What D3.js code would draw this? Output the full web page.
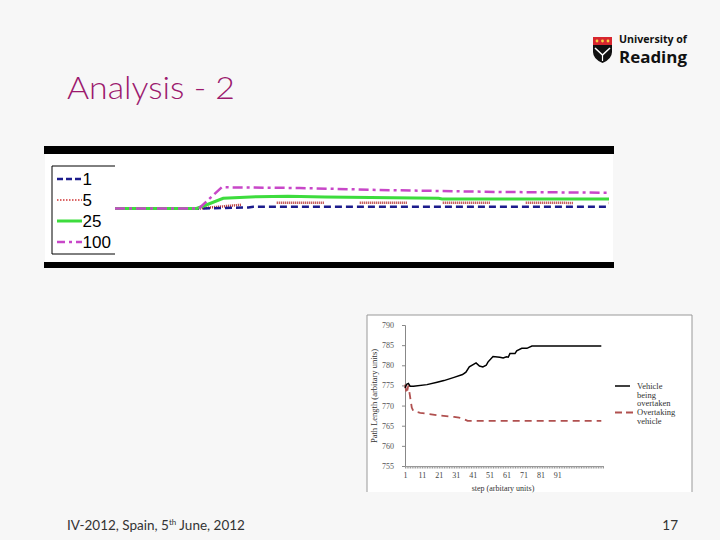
<!DOCTYPE html>
<html><head><meta charset="utf-8">
<script src="https://cdn.jsdelivr.net/npm/d3@7"></script>
<style>html,body{margin:0;padding:0;background:#f7f7f7;}svg{display:block;}</style>
</head><body>
<script>
// ---------- Top chart data (step, relative value) ----------
const topSeriesNames = ["1", "5", "25", "100"];
const topS1   = [[0,0],[17,0],[27,1.0],[28,1.8],[100,1.8]];
const topS5   = [[0,0],[17,0],[25,3.5],[31,5.8],[100,5.6]];
const topS25  = [[0,0],[16.5,0],[18.2,3],[21.9,10.2],[28.7,11.8],[35,12.2],[42.5,11.5],[65.5,10.3],[66.2,9.5],[100,9.5]];
const topS100 = [[0,0],[17,0],[21.6,21.2],[37.4,20.5],[53.6,18.5],[78,16.5],[100,15.8]];

// ---------- Bottom chart data ----------
const botSeriesNames = ["Vehicle being overtaken", "Overtaking vehicle"];
const overtaken = [[1,774.4],[2,775.3],[3,775.5],[4,774.8],[6,774.8],[14,775.2],[20,775.8],[24,776.2],[30,777.0],[35,777.7],[37,778.3],[39,779.6],[43,780.6],[45,779.8],[47,779.6],[49,780.0],[50,780.8],[53,782.2],[57,782.0],[59,781.8],[61,782.1],[62,782.0],[63,782.9],[66,782.9],[67,783.6],[70,784.2],[73,784.2],[76,784.8],[117,784.8]];
const overtaking = [[1,775.2],[2,773.0],[3,775.0],[4,772.2],[5,769.5],[6,768.6],[10,768.2],[15,767.9],[22,767.5],[30,767.2],[33,767.0],[36,766.6],[38,766.2],[117,766.2]];
const yTicks = [755,760,765,770,775,780,785,790];
const xTickLabels = [1,11,21,31,41,51,61,71,81,91];

const W = 720, H = 540;
const svg = d3.select("body").append("svg").attr("width", W).attr("height", H);
svg.append("rect").attr("width", W).attr("height", H).attr("fill", "#f7f7f7");

// Title
svg.append("text").attr("x", 67).attr("y", 99).text("Analysis - 2")
  .attr("font-family", "Lato, 'Open Sans', sans-serif").attr("font-size", 32).attr("font-weight", 300)
  .attr("fill", "#9c1a6e").attr("textLength", 168).attr("lengthAdjust", "spacingAndGlyphs");

// Logo
const logo = svg.append("g");
logo.append("path").attr("d", "M593,37 H612 V52 Q612,59 602.5,63 Q593,59 593,52 Z").attr("fill", "#111");
logo.append("path").attr("d", "M593,37 H612 V45 H593 Z").attr("fill", "#d7262e");
[597, 602.5, 608].forEach(cx => logo.append("circle").attr("cx", cx).attr("cy", 41).attr("r", 1.4).attr("fill", "#f5d142"));
logo.append("path").attr("d", "M595,48 L602.5,55 L610,48").attr("fill", "none").attr("stroke", "#fff").attr("stroke-width", 1.6);
logo.append("path").attr("d", "M602.5,55 V61").attr("stroke", "#fff").attr("stroke-width", 1.2);
logo.append("text").attr("x", 619).attr("y", 43).text("University of")
  .attr("font-family", "'Open Sans', 'DejaVu Sans', sans-serif").attr("font-weight", "bold").attr("font-size", 10)
  .attr("fill", "#111").attr("textLength", 68).attr("lengthAdjust", "spacingAndGlyphs");
logo.append("text").attr("x", 619).attr("y", 63).text("Reading")
  .attr("font-family", "'Open Sans', 'DejaVu Sans', sans-serif").attr("font-weight", "bold").attr("font-size", 15.5)
  .attr("fill", "#111").attr("textLength", 68).attr("lengthAdjust", "spacingAndGlyphs");

// ---------- Top chart ----------
const topG = svg.append("g");
topG.append("rect").attr("x", 45).attr("y", 146).attr("width", 568).attr("height", 122).attr("fill", "#fff");
topG.append("rect").attr("x", 44).attr("y", 146).attr("width", 570).attr("height", 8).attr("fill", "#000");
topG.append("rect").attr("x", 44).attr("y", 262).attr("width", 570).attr("height", 6).attr("fill", "#000");

const tx = d3.scaleLinear().domain([0, 100]).range([115, 609]);
const ty = d3.scaleLinear().domain([0, 20]).range([208.5, 188.5]);
const tline = d3.line().x(d => tx(d[0])).y(d => ty(d[1]));

const dotted = [];
for (let i = 0; i < 23; i++) dotted.push(1, 1);
dotted.push(1, 36);
const topStyles = [
  {data: topS5,   color: "#b22a2a", width: 2.5, dash: dotted.join(","), offset: 4},
  {data: topS1,   color: "#1c1c8c", width: 2.5, dash: "7,4", offset: 0},
  {data: topS25,  color: "#3ddc3d", width: 3,   dash: null, offset: 0},
  {data: topS100, color: "#c847c8", width: 2.5, dash: "10,4,3,4", offset: 0}
];
topStyles.forEach(s => {
  topG.append("path").datum(s.data).attr("d", tline).attr("fill", "none")
    .attr("stroke", s.color).attr("stroke-width", s.width)
    .attr("stroke-dasharray", s.dash).attr("stroke-dashoffset", s.offset);
});

// Legend box (open on the right)
topG.append("path").attr("d", "M115,166 H52 V254 H115").attr("fill", "none").attr("stroke", "#000").attr("stroke-width", 1);
const legStyles = [
  {color: "#1c1c8c", width: 2.5, dash: "6,3"},
  {color: "#d03535", width: 1.5, dash: "1.5,1.5"},
  {color: "#3ddc3d", width: 3, dash: null},
  {color: "#c847c8", width: 2.5, dash: "8,4,3,4"}
];
const legY = [179, 200, 221, 242];
topSeriesNames.forEach((n, i) => {
  topG.append("line").attr("x1", 57).attr("x2", 82).attr("y1", legY[i]).attr("y2", legY[i])
    .attr("stroke", legStyles[i].color).attr("stroke-width", legStyles[i].width).attr("stroke-dasharray", legStyles[i].dash);
  topG.append("text").attr("x", 82.5).attr("y", legY[i] + 6).text(n)
    .attr("font-family", "'Liberation Sans', Arial, sans-serif").attr("font-size", 17).attr("fill", "#000");
});

// ---------- Bottom chart ----------
const bot = svg.append("g");
bot.append("rect").attr("x", 367).attr("y", 315).attr("width", 325).attr("height", 177).attr("fill", "#fff");
bot.append("path").attr("d", "M367,492 V315 H692 V492").attr("fill", "none").attr("stroke", "#999").attr("stroke-width", 1);

const bx = d3.scaleLinear().domain([1, 118]).range([405, 603]);
const by = d3.scaleLinear().domain([755, 790]).range([466, 325]);
const serif = "'Liberation Serif', 'DejaVu Serif', serif";

const yAxis = bot.append("g").attr("transform", "translate(405,0)")
  .call(d3.axisLeft(by).tickValues(yTicks).tickSize(3).tickPadding(8).tickFormat(d3.format("d")));
yAxis.selectAll("text").attr("font-family", serif).attr("font-size", 8).attr("fill", "#555");
yAxis.selectAll("line,path").attr("stroke", "#888");

const xAxis = bot.append("g").attr("transform", "translate(0,466)")
  .call(d3.axisBottom(bx).tickValues(d3.range(1, 119)).tickSize(2.5).tickSizeOuter(0).tickPadding(4)
    .tickFormat(d => xTickLabels.includes(d) ? d : ""));
xAxis.selectAll("text").attr("font-family", serif).attr("font-size", 8).attr("fill", "#444");
xAxis.selectAll("line,path").attr("stroke", "#999");

const bline = d3.line().x(d => bx(d[0])).y(d => by(d[1]));
bot.append("path").datum(overtaking).attr("d", bline).attr("fill", "none")
  .attr("stroke", "#b0504f").attr("stroke-width", 1.8).attr("stroke-dasharray", "7,5");
bot.append("path").datum(overtaken).attr("d", bline).attr("fill", "none")
  .attr("stroke", "#000").attr("stroke-width", 1.5);

bot.append("text").attr("transform", "translate(377,396) rotate(-90)").attr("text-anchor", "middle")
  .text("Path Length (arbitary units)").attr("font-family", serif).attr("font-size", 8.5).attr("fill", "#333");
bot.append("text").attr("x", 503).attr("y", 491).attr("text-anchor", "middle")
  .text("step (arbitary units)").attr("font-family", serif).attr("font-size", 8).attr("fill", "#333");

// bottom legend
bot.append("line").attr("x1", 615).attr("x2", 630).attr("y1", 386).attr("y2", 386).attr("stroke", "#000").attr("stroke-width", 1.5);
bot.append("line").attr("x1", 615).attr("x2", 633).attr("y1", 412.5).attr("y2", 412.5).attr("stroke", "#b0504f").attr("stroke-width", 1.8).attr("stroke-dasharray", "7,4");
const legLines = [["Vehicle", "being", "overtaken"], ["Overtaking", "vehicle"]];
const legTop = [386, 412];
legLines.forEach((lines, i) => {
  lines.forEach((t, j) => {
    bot.append("text").attr("x", 637).attr("y", legTop[i] + 3 + j * 8.6).text(t)
      .attr("font-family", serif).attr("font-size", 8.5).attr("fill", "#333");
  });
});

// Footer
const foot = svg.append("text").attr("x", 67).attr("y", 530)
  .attr("font-family", "Lato, 'Open Sans', sans-serif").attr("font-size", 13.5).attr("fill", "#333");
foot.append("tspan").text("IV-2012, Spain, 5");
foot.append("tspan").text("th").attr("font-size", 8).attr("dy", -5);
foot.append("tspan").text(" June, 2012").attr("dy", 5);
svg.append("text").attr("x", 678).attr("y", 530).attr("text-anchor", "end").text("17")
  .attr("font-family", "Lato, 'Open Sans', sans-serif").attr("font-size", 13.5).attr("fill", "#333");
</script>
</body></html>
